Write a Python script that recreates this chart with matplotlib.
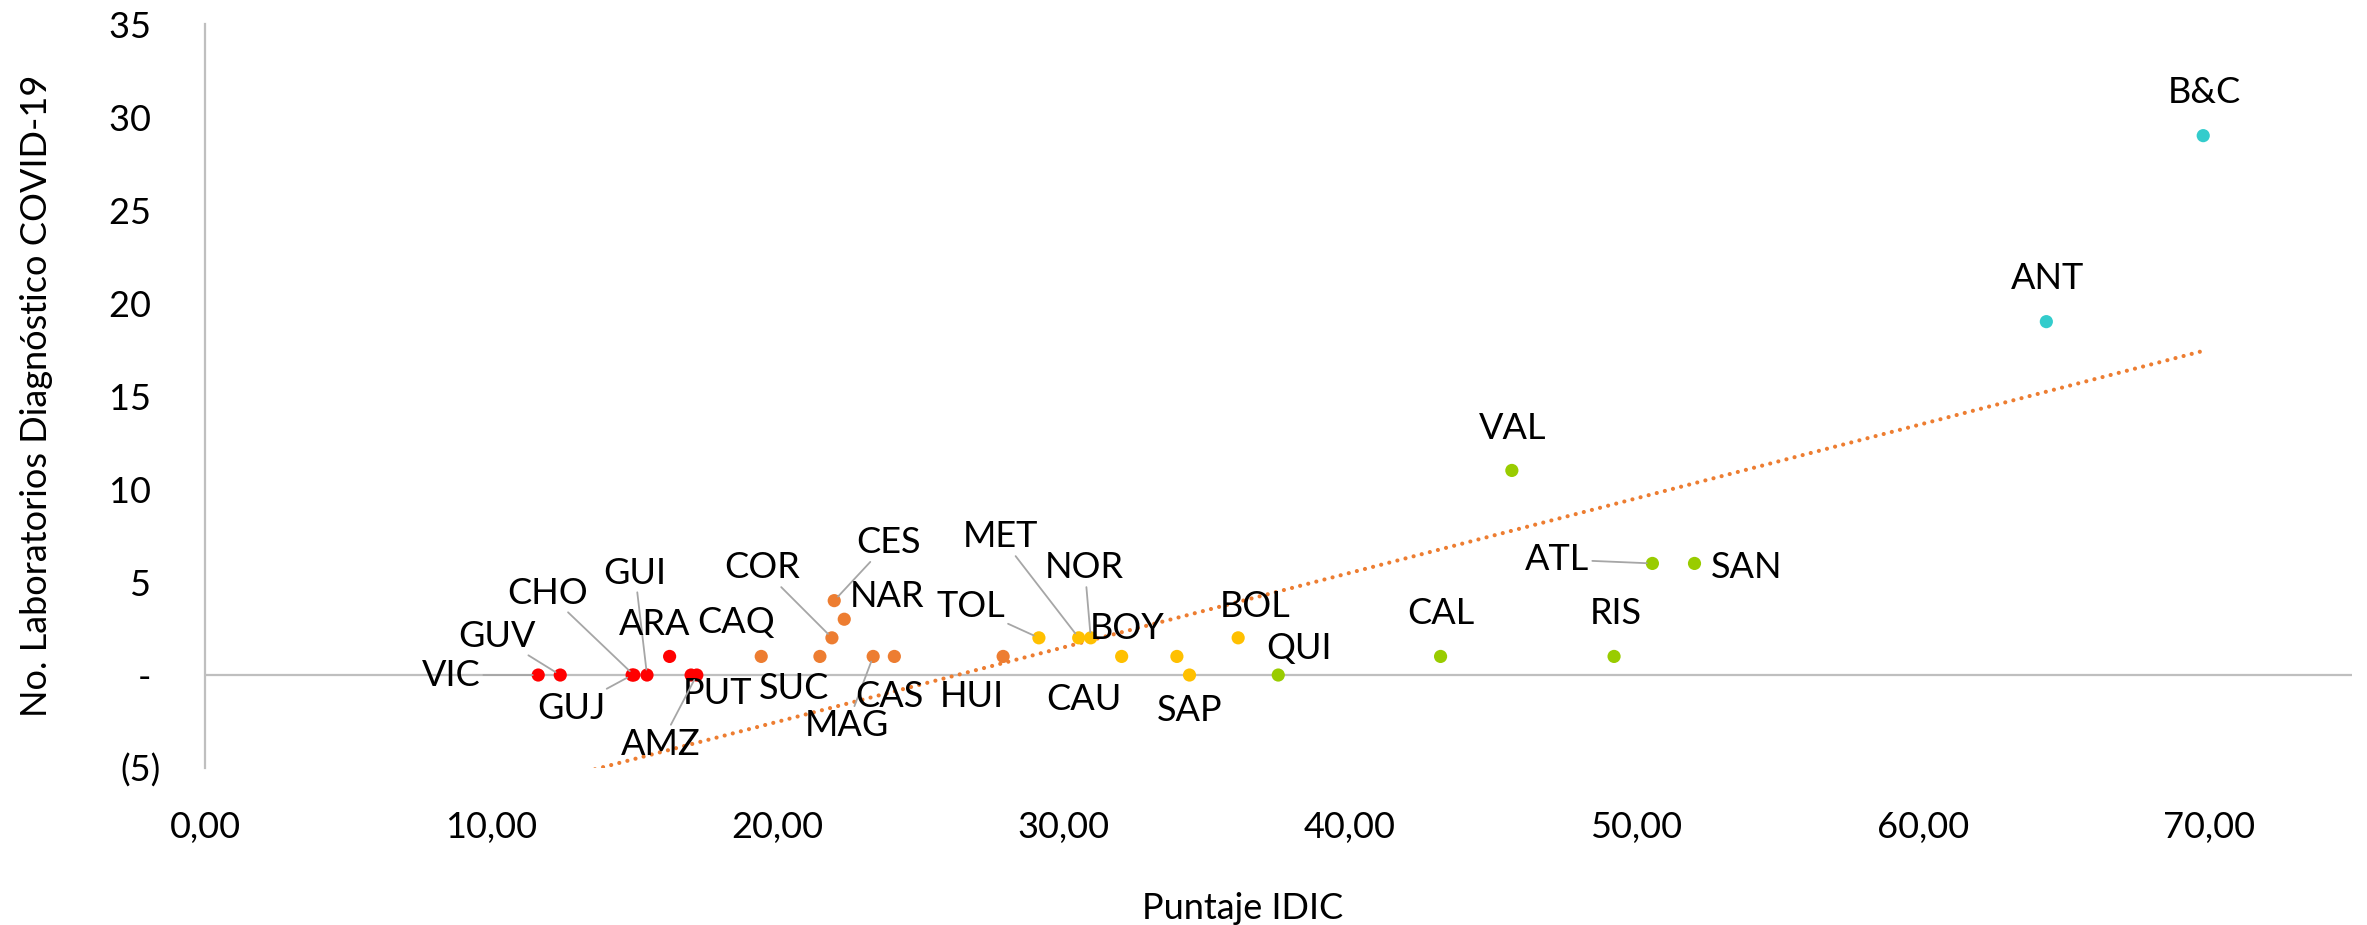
import numpy as np
import matplotlib
matplotlib.use('Agg')
import matplotlib.pyplot as plt

plt.rcParams['font.family'] = ['Lato', 'DejaVu Sans']

# departamentos (abreviatura), puntaje IDIC y no. de laboratorios
deptos = ['VIC', 'GUV', 'CHO', 'GUJ', 'GUI', 'ARA', 'PUT', 'AMZ',
          'CAQ', 'SUC', 'COR', 'CES', 'NAR', 'MAG', 'CAS', 'HUI',
          'TOL', 'MET', 'NOR', 'BOY', 'CAU', 'SAP', 'BOL',
          'QUI', 'CAL', 'VAL', 'RIS', 'ATL', 'SAN',
          'ANT', 'B&C']
idic = [11.64, 12.41, 14.98, 14.92, 15.44, 16.23, 16.98, 17.18,
        19.43, 21.48, 21.90, 21.98, 22.33, 23.34, 24.08, 27.88,
        29.13, 30.52, 30.94, 32.02, 33.95, 34.39, 36.09,
        37.49, 43.16, 45.65, 49.22, 50.56, 52.03,
        64.32, 69.80]
labs = [0, 0, 0, 0, 0, 1, 0, 0,
        1, 1, 2, 4, 3, 1, 1, 1,
        2, 2, 2, 1, 1, 0, 2,
        0, 1, 11, 1, 6, 6,
        19, 29]
grupo = [0] * 8 + [1] * 8 + [2] * 7 + [3] * 6 + [4] * 2

# linea de tendencia
pendiente = 0.4004
intercepto = -10.52

colores = ['#FF0000', '#ED7D31', '#FFC000', '#99CC00', '#33CCCC']

# posicion de las etiquetas respecto al punto (px, y hacia abajo), con guia o no
etiq = {
    'VIC': (-87, 0, True), 'GUV': (-63, -39, True), 'CHO': (-86, -82, True),
    'GUJ': (-61, 33, True), 'GUI': (-12, -102, True), 'ARA': (-15, -32, False),
    'PUT': (26, 18, False), 'AMZ': (-36, 69, True), 'CAQ': (-25, -34, False),
    'SUC': (-26, 32, False), 'COR': (-70, -70, True), 'CES': (54, -58, True),
    'NAR': (43, -23, False), 'MAG': (-26, 69, True), 'CAS': (-5, 40, False),
    'HUI': (-31, 40, False), 'TOL': (-68, -31, True), 'MET': (-78, -101, True),
    'NOR': (-6, -70, True), 'BOY': (5, -28, False), 'CAU': (-93, 43, False),
    'SAP': (0, 35, False), 'BOL': (17, -31, False), 'QUI': (21, -27, False),
    'CAL': (0, -43, False), 'VAL': (1, -42, False), 'RIS': (2, -43, False),
    'ATL': (-95, -4, True), 'SAN': (52, 4, False), 'ANT': (1, -43, False),
    'B&C': (1, -43, False),
}

fig = plt.figure(figsize=(23.67, 9.25), dpi=100)
ax = fig.add_axes([0.0866, 0.1697, 0.9071, 0.8043])

gris = '#BFBFBF'
ax.axhline(0, color=gris, lw=1.6, zorder=1)

xt = np.array([min(idic), max(idic)])
ax.plot(xt, pendiente * xt + intercepto, color='#ED7D31', lw=3,
        linestyle=(0, (0.01, 2)), dash_capstyle='round', zorder=2)

ax.scatter(idic, labs, s=90, c=[colores[g] for g in grupo],
           edgecolors='none', zorder=3)

for d, x, y in zip(deptos, idic, labs):
    dx, dy, guia = etiq[d]
    props = None
    if guia:
        props = dict(arrowstyle='-', color='#A6A6A6', lw=1.3,
                     shrinkA=0, shrinkB=4)
    ax.annotate(d, xy=(x, y), xytext=(dx, -dy), textcoords='offset pixels',
                ha='center', va='center', fontsize=26, color='black',
                arrowprops=props, zorder=4)

ax.set_xlim(0, 75)
ax.set_ylim(-5, 35)
ax.set_xticks(range(0, 80, 10))
ax.set_xticklabels(['%d,00' % v for v in range(0, 80, 10)])
ax.set_yticks(range(-5, 40, 5))
ylabs = ['(5)', '- '] + ['%d ' % v for v in range(5, 40, 5)]
ax.set_yticklabels(ylabs)
ax.tick_params(axis='both', length=0, labelsize=26)
ax.tick_params(axis='x', pad=31)
ax.tick_params(axis='y', pad=32)

for s in ['top', 'right', 'bottom']:
    ax.spines[s].set_visible(False)
ax.spines['left'].set_color(gris)
ax.spines['left'].set_linewidth(1.6)

ax.set_xlabel('Puntaje IDIC', fontsize=26)
ax.xaxis.set_label_coords(0.4835, -0.189)
ax.xaxis.label.set_va('center')
ax.set_ylabel('No. Laboratorios Diagnóstico COVID-19', fontsize=26)
ax.yaxis.set_label_coords(-0.0787, 0.5)
ax.yaxis.label.set_va('center')

fig.savefig('out.png', dpi=100)
